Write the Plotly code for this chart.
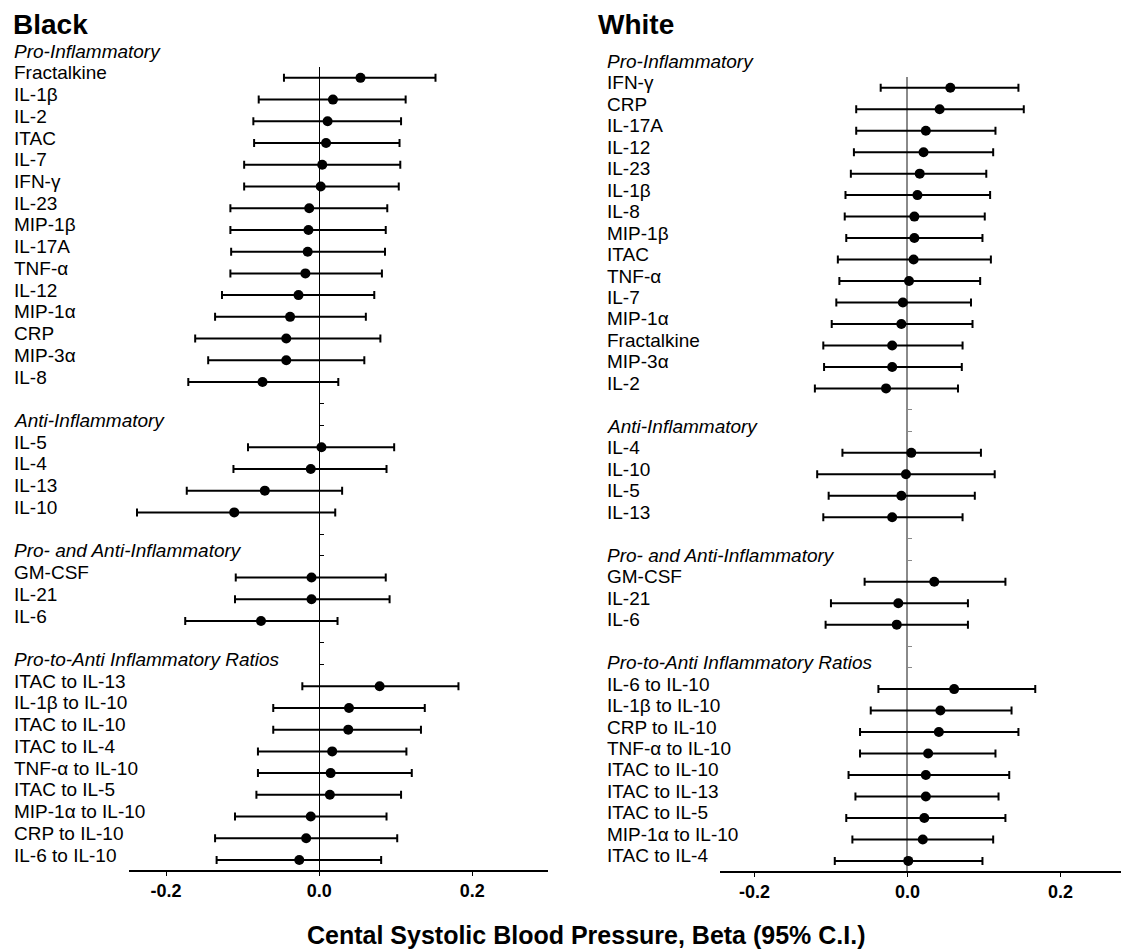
import plotly.graph_objects as go

# ---------------- DATA ----------------
group_names = ["Pro-Inflammatory", "Anti-Inflammatory",
               "Pro- and Anti-Inflammatory", "Pro-to-Anti Inflammatory Ratios"]

# Black
black_pro = ["Fractalkine", "IL-1β", "IL-2", "ITAC", "IL-7", "IFN-γ", "IL-23", "MIP-1β",
             "IL-17A", "TNF-α", "IL-12", "MIP-1α", "CRP", "MIP-3α", "IL-8"]
black_pro_beta = [0.054, 0.018, 0.011, 0.009, 0.004, 0.002, -0.013, -0.014,
                  -0.015, -0.018, -0.027, -0.038, -0.043, -0.043, -0.074]
black_pro_lo = [-0.046, -0.079, -0.086, -0.085, -0.098, -0.098, -0.116, -0.116,
                -0.115, -0.116, -0.127, -0.136, -0.162, -0.145, -0.171]
black_pro_hi = [0.152, 0.113, 0.107, 0.105, 0.106, 0.104, 0.089, 0.087,
                0.086, 0.082, 0.072, 0.061, 0.080, 0.059, 0.025]

black_anti = ["IL-5", "IL-4", "IL-13", "IL-10"]
black_anti_beta = [0.003, -0.011, -0.071, -0.111]
black_anti_lo = [-0.093, -0.112, -0.173, -0.238]
black_anti_hi = [0.098, 0.088, 0.030, 0.021]

black_both = ["GM-CSF", "IL-21", "IL-6"]
black_both_beta = [-0.010, -0.010, -0.076]
black_both_lo = [-0.109, -0.110, -0.175]
black_both_hi = [0.087, 0.092, 0.024]

black_ratio = ["ITAC to IL-13", "IL-1β to IL-10", "ITAC to IL-10", "ITAC to IL-4",
               "TNF-α to IL-10", "ITAC to IL-5", "MIP-1α to IL-10", "CRP to IL-10",
               "IL-6 to IL-10"]
black_ratio_beta = [0.079, 0.039, 0.038, 0.017, 0.015, 0.014, -0.011, -0.017, -0.026]
black_ratio_lo = [-0.022, -0.060, -0.060, -0.080, -0.080, -0.082, -0.110, -0.136, -0.134]
black_ratio_hi = [0.182, 0.138, 0.133, 0.114, 0.121, 0.107, 0.088, 0.102, 0.081]

# White
white_pro = ["IFN-γ", "CRP", "IL-17A", "IL-12", "IL-23", "IL-1β", "IL-8", "MIP-1β",
             "ITAC", "TNF-α", "IL-7", "MIP-1α", "Fractalkine", "MIP-3α", "IL-2"]
white_pro_beta = [0.056, 0.042, 0.024, 0.021, 0.016, 0.013, 0.009, 0.009,
                  0.008, 0.002, -0.006, -0.008, -0.020, -0.020, -0.028]
white_pro_lo = [-0.035, -0.067, -0.067, -0.070, -0.074, -0.081, -0.082, -0.080,
                -0.091, -0.089, -0.093, -0.099, -0.110, -0.109, -0.121]
white_pro_hi = [0.145, 0.152, 0.115, 0.112, 0.103, 0.108, 0.101, 0.098,
                0.109, 0.095, 0.083, 0.085, 0.072, 0.071, 0.066]

white_anti = ["IL-4", "IL-10", "IL-5", "IL-13"]
white_anti_beta = [0.005, -0.002, -0.008, -0.020]
white_anti_lo = [-0.085, -0.118, -0.103, -0.110]
white_anti_hi = [0.096, 0.114, 0.088, 0.072]

white_both = ["GM-CSF", "IL-21", "IL-6"]
white_both_beta = [0.035, -0.012, -0.014]
white_both_lo = [-0.056, -0.100, -0.107]
white_both_hi = [0.128, 0.079, 0.079]

white_ratio = ["IL-6 to IL-10", "IL-1β to IL-10", "CRP to IL-10", "TNF-α to IL-10",
               "ITAC to IL-10", "ITAC to IL-13", "ITAC to IL-5", "MIP-1α to IL-10",
               "ITAC to IL-4"]
white_ratio_beta = [0.061, 0.043, 0.041, 0.027, 0.024, 0.024, 0.022, 0.020, 0.001]
white_ratio_lo = [-0.038, -0.048, -0.062, -0.062, -0.077, -0.068, -0.080, -0.072, -0.095]
white_ratio_hi = [0.167, 0.136, 0.145, 0.115, 0.133, 0.119, 0.128, 0.112, 0.098]

x_tick_vals = [-0.2, 0.0, 0.2]
x_tick_text = ["-0.2", "0.0", "0.2"]
x_title = "Cental Systolic Blood Pressure, Beta (95% C.I.)"
panel_titles = ["Black", "White"]

panels = [
    [(black_pro, black_pro_beta, black_pro_lo, black_pro_hi),
     (black_anti, black_anti_beta, black_anti_lo, black_anti_hi),
     (black_both, black_both_beta, black_both_lo, black_both_hi),
     (black_ratio, black_ratio_beta, black_ratio_lo, black_ratio_hi)],
    [(white_pro, white_pro_beta, white_pro_lo, white_pro_hi),
     (white_anti, white_anti_beta, white_anti_lo, white_anti_hi),
     (white_both, white_both_beta, white_both_lo, white_both_hi),
     (white_ratio, white_ratio_beta, white_ratio_lo, white_ratio_hi)],
]

# ---------------- LAYOUT ----------------
OFF = 8                      # page body margin
W, H = 1129 - OFF, 950 - OFF  # figure size
FONT = "Liberation Sans, Arial, Helvetica, sans-serif"


def px(sx):  # screen x pixel -> paper
    return (sx - OFF) / W


def py(sy):  # screen y pixel -> paper
    return 1 - (sy - OFF) / H


cfg = [
    dict(xdom=[px(128.6), px(548)], xr=[-0.249, 0.299],
         ydom=[py(870), py(67)], yr=[37.46, 0.5],
         label_x=px(12), title_x=px(11), zcolor="black", zwidth=1),
    dict(xdom=[px(720), 1.0], xr=[-0.245, 0.2895],
         ydom=[py(871), py(77)], yr=[37.47, 0.5],
         label_x=px(605), title_x=px(596), zcolor="#8a8a8a", zwidth=1.5),
]


def slot_to_paper(s, c):
    y0, y1 = c["ydom"]
    r0, r1 = c["yr"]
    return y0 + (r0 - s) / (r0 - r1) * (y1 - y0)


fig = go.Figure()
annotations = []
layout_axes = {}

for p, groups in enumerate(panels):
    c = cfg[p]
    xa = "x" if p == 0 else "x2"
    ya = "y" if p == 0 else "y2"
    slot = 0
    gap_ticks = []
    for gi, (names, beta, lo, hi) in enumerate(groups):
        if gi > 0:
            gap_ticks.append(slot)
            slot += 1
            gap_ticks.append(slot)
        annotations.append(dict(text=group_names[gi], x=c["label_x"], xref="paper",
                                y=slot_to_paper(slot, c), yref="paper",
                                xanchor="left", yanchor="middle",
                                yshift=5, showarrow=False,
                                font=dict(family=FONT, size=19, color="black", style="italic")))
        slot += 1
        ys = list(range(slot, slot + len(names)))
        slot += len(names)
        for nm, yv in zip(names, ys):
            annotations.append(dict(text=nm, x=c["label_x"], xref="paper",
                                    y=slot_to_paper(yv, c), yref="paper",
                                    xanchor="left", yanchor="middle",
                                    yshift=5, showarrow=False,
                                    font=dict(family=FONT, size=19, color="black")))
        fig.add_trace(go.Scatter(
            x=beta, y=ys, xaxis=xa, yaxis=ya, mode="markers",
            marker=dict(color="black", size=10),
            error_x=dict(type="data", symmetric=False,
                         array=[h - b for h, b in zip(hi, beta)],
                         arrayminus=[b - l for b, l in zip(beta, lo)],
                         color="black", thickness=2, width=4),
            showlegend=False, hoverinfo="skip"))

    zero_pos = c["xdom"][0] + (0 - c["xr"][0]) / (c["xr"][1] - c["xr"][0]) * (c["xdom"][1] - c["xdom"][0])
    xkey = "xaxis" if p == 0 else "xaxis2"
    ykey = "yaxis" if p == 0 else "yaxis2"
    layout_axes[xkey] = dict(domain=c["xdom"], range=c["xr"], anchor=ya,
                             tickvals=x_tick_vals, ticktext=x_tick_text,
                             showline=True, linecolor="black", linewidth=1.5,
                             ticks="outside", ticklen=4, tickwidth=1, tickcolor="black",
                             showgrid=False, zeroline=False,
                             tickfont=dict(family=FONT, size=18, color="black", weight="bold"))
    layout_axes[ykey] = dict(domain=c["ydom"], range=c["yr"], anchor="free",
                             position=zero_pos, showline=True, linecolor=c["zcolor"],
                             linewidth=c["zwidth"], ticks="inside", ticklen=4,
                             tickcolor=c["zcolor"], tickvals=gap_ticks,
                             showticklabels=False, showgrid=False, zeroline=False,
                             layer="below traces")
    annotations.append(dict(text=panel_titles[p], x=c["title_x"], xref="paper",
                            y=py(25), yref="paper", xanchor="left", yanchor="middle",
                            showarrow=False,
                            font=dict(family=FONT, size=28, color="black", weight="bold")))

annotations.append(dict(text=x_title, x=px(586), xref="paper", y=py(935), yref="paper",
                        xanchor="center", yanchor="middle", showarrow=False,
                        font=dict(family=FONT, size=25, color="black", weight="bold")))

fig.update_layout(width=W, height=H, margin=dict(l=0, r=0, t=0, b=0),
                  paper_bgcolor="white", plot_bgcolor="white",
                  annotations=annotations, **layout_axes)

fig.write_html("out.html")
